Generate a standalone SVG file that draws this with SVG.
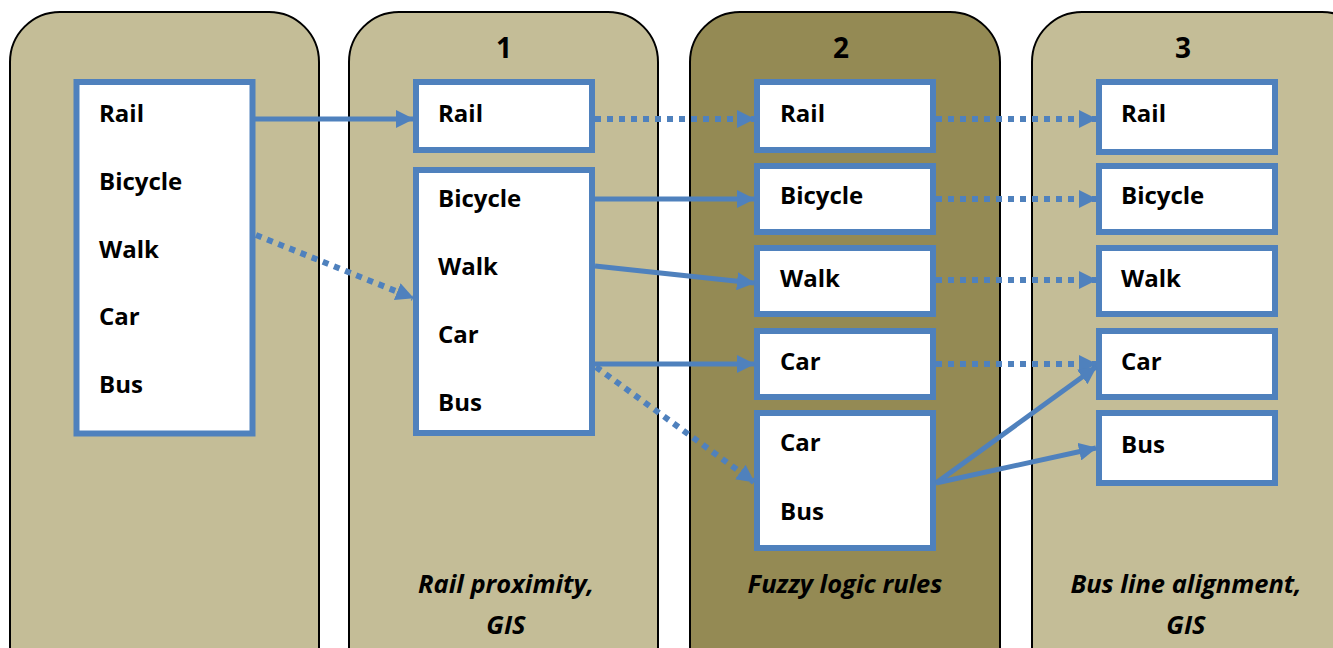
<svg xmlns="http://www.w3.org/2000/svg" width="1333" height="648" viewBox="0 0 1333 648">
<defs>
<style>
.pl{fill:#C4BD97;stroke:#000;stroke-width:2}
.pd{fill:#948A54;stroke:#000;stroke-width:2}
.bx{fill:#fff;stroke:#4F81BD;stroke-width:6}
.t{font-family:"Open Sans",Lato,sans-serif;font-weight:bold;font-size:24px;fill:#000}
.h{font-family:"Open Sans",Lato,sans-serif;font-weight:bold;font-size:28px;fill:#000;text-anchor:middle}
.c{font-family:"Open Sans",Lato,sans-serif;font-weight:bold;font-style:italic;font-size:25.5px;fill:#000;text-anchor:middle}
.s{stroke:#4F81BD;stroke-width:5;fill:none;marker-end:url(#ah)}
.d{stroke:#4F81BD;stroke-width:6;fill:none;stroke-dasharray:6 6;marker-end:url(#ah)}
</style>
<marker id="ah" markerUnits="userSpaceOnUse" markerWidth="18" markerHeight="18" refX="17" refY="9" orient="auto"><path d="M0,0 L18,9 L0,18 Z" fill="#4F81BD"/></marker>
</defs>
<g id="panel0"><rect class="pl" x="10" y="12" width="309" height="700" rx="50"/></g>
<g id="panel1"><rect class="pl" x="349" y="12" width="309" height="700" rx="50"/><text class="h" x="504" y="58">1</text><text class="c" x="506" y="593">Rail proximity,</text><text class="c" x="506" y="634">GIS</text></g>
<g id="panel2"><rect class="pd" x="690" y="12" width="310" height="700" rx="50"/><text class="h" x="841" y="58">2</text><text class="c" x="845" y="593">Fuzzy logic rules</text></g>
<g id="panel3"><rect class="pl" x="1032" y="12" width="340" height="700" rx="50"/><text class="h" x="1183" y="58">3</text><text class="c" x="1186" y="593">Bus line alignment,</text><text class="c" x="1186" y="634">GIS</text></g>
<g id="box0"><rect class="bx" x="76.5" y="82" width="176" height="351.5"/>
<text class="t" x="99" y="122">Rail</text><text class="t" x="99" y="190">Bicycle</text><text class="t" x="99" y="258">Walk</text><text class="t" x="99" y="325">Car</text><text class="t" x="99" y="393">Bus</text></g>
<g id="box1rail"><rect class="bx" x="416" y="82" width="176" height="68"/><text class="t" x="438" y="122">Rail</text></g>
<g id="box1multi"><rect class="bx" x="416" y="170" width="176" height="263"/>
<text class="t" x="438" y="207">Bicycle</text><text class="t" x="438" y="275">Walk</text><text class="t" x="438" y="343">Car</text><text class="t" x="438" y="411">Bus</text></g>
<g id="box2rail"><rect class="bx" x="757" y="82" width="176" height="68"/><text class="t" x="780" y="122">Rail</text></g>
<g id="box2bicycle"><rect class="bx" x="757" y="166" width="176" height="66"/><text class="t" x="780" y="204">Bicycle</text></g>
<g id="box2walk"><rect class="bx" x="757" y="248" width="176" height="66"/><text class="t" x="780" y="287">Walk</text></g>
<g id="box2car"><rect class="bx" x="757" y="331" width="176" height="66"/><text class="t" x="780" y="370">Car</text></g>
<g id="box2carbus"><rect class="bx" x="757" y="413" width="176" height="135"/><text class="t" x="780" y="451">Car</text><text class="t" x="780" y="520">Bus</text></g>
<g id="box3rail"><rect class="bx" x="1099" y="82" width="176" height="70"/><text class="t" x="1121" y="122">Rail</text></g>
<g id="box3bicycle"><rect class="bx" x="1099" y="166" width="176" height="66"/><text class="t" x="1121" y="204">Bicycle</text></g>
<g id="box3walk"><rect class="bx" x="1099" y="248" width="176" height="66"/><text class="t" x="1121" y="287">Walk</text></g>
<g id="box3car"><rect class="bx" x="1099" y="331" width="176" height="66"/><text class="t" x="1121" y="370">Car</text></g>
<g id="box3bus"><rect class="bx" x="1099" y="413" width="176" height="70"/><text class="t" x="1121" y="453">Bus</text></g>
<g id="connectors">
<path class="s" d="M255,119 L413,119"/>
<path class="d" d="M256,235 L413,298"/>
<path class="d" d="M595,119 L754,119"/>
<path class="s" d="M595,199 L754,199"/>
<path class="s" d="M595,266 L754,283"/>
<path class="s" d="M595,364 L754,364"/>
<path class="d" d="M596,367 L754,482"/>
<path class="d" d="M936,119 L1096,119"/>
<path class="d" d="M936,199 L1096,199"/>
<path class="d" d="M936,280 L1096,280"/>
<path class="d" d="M936,364 L1096,364"/>
<path class="s" d="M936,483 L1096,367"/>
<path class="s" d="M936,483 L1096,448"/>
</g>
</svg>
